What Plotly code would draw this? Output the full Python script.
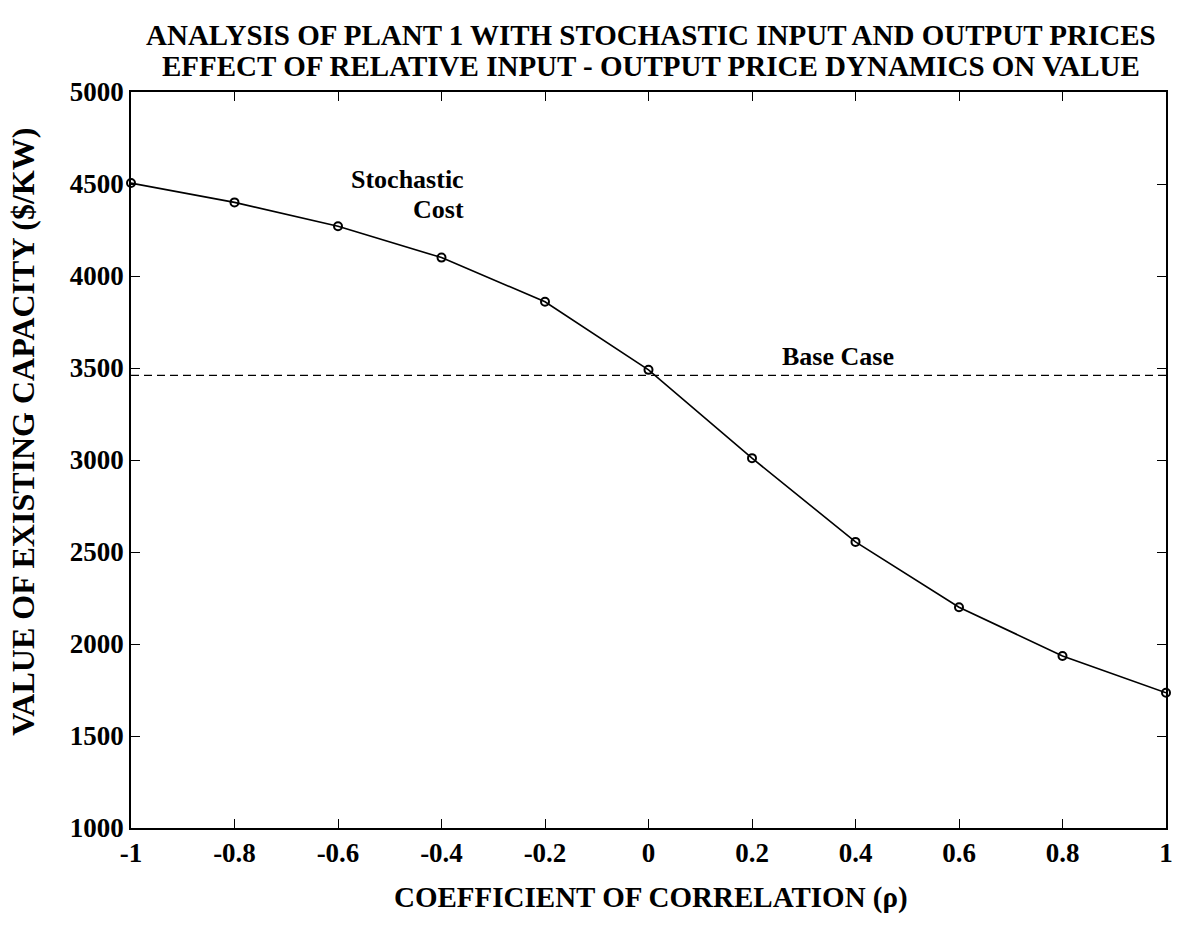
import plotly.graph_objects as go

rho = [-1, -0.8, -0.6, -0.4, -0.2, 0, 0.2, 0.4, 0.6, 0.8, 1]
value = [4505, 4400, 4270, 4100, 3860, 3490, 3010, 2555, 2200, 1935, 1735]
base_case = 3460
x_ticks = [-1, -0.8, -0.6, -0.4, -0.2, 0, 0.2, 0.4, 0.6, 0.8, 1]
x_tick_text = ["-1", "-0.8", "-0.6", "-0.4", "-0.2", "0", "0.2", "0.4", "0.6", "0.8", "1"]
y_ticks = [1000, 1500, 2000, 2500, 3000, 3500, 4000, 4500, 5000]
title_lines = ["ANALYSIS OF PLANT 1 WITH STOCHASTIC INPUT AND OUTPUT PRICES",
               "EFFECT OF RELATIVE INPUT - OUTPUT PRICE DYNAMICS ON VALUE"]
y_title = "VALUE OF EXISTING CAPACITY ($/KW)"
x_title = "COEFFICIENT OF CORRELATION (ρ)"

FONT = "Liberation Serif, Times New Roman, serif"

fig = go.Figure()
fig.add_trace(go.Scatter(
    x=[rho[0], rho[-1]], y=[base_case, base_case], mode="lines",
    line=dict(color="black", width=1.4, dash="8px,5px"), showlegend=False, hoverinfo="skip"))
fig.add_trace(go.Scatter(
    x=rho, y=value, mode="lines+markers",
    line=dict(color="black", width=1.6),
    marker=dict(symbol="circle-open", size=8, color="black", line=dict(width=2)),
    showlegend=False, cliponaxis=False))

fig.add_annotation(x=-0.353, y=4522, text="<b>Stochastic</b>", showarrow=False,
                   xanchor="right", yanchor="middle",
                   font=dict(family=FONT, size=26, color="black"))
fig.add_annotation(x=-0.353, y=4362, text="<b>Cost</b>", showarrow=False,
                   xanchor="right", yanchor="middle",
                   font=dict(family=FONT, size=26, color="black"))
fig.add_annotation(x=0.367, y=3565, text="<b>Base Case</b>", showarrow=False,
                   xanchor="center", yanchor="middle",
                   font=dict(family=FONT, size=26, color="black"))

for txt, yy in zip(title_lines, [1.0774, 1.0353]):
    fig.add_annotation(xref="paper", yref="paper", x=0.502, y=yy, text="<b>" + txt + "</b>",
                       showarrow=False, xanchor="center", yanchor="middle",
                       font=dict(family=FONT, size=29, color="black"))

# axis titles
fig.add_annotation(xref="paper", yref="paper", x=0.502, y=-0.095, text="<b>" + x_title + "</b>",
                   showarrow=False, xanchor="center", yanchor="middle",
                   font=dict(family=FONT, size=29, color="black"))
fig.add_annotation(xref="paper", yref="paper", x=-0.104, y=0.539, text="<b>" + y_title + "</b>",
                   showarrow=False, xanchor="center", yanchor="middle", textangle=-90,
                   font=dict(family=FONT, size=32, color="black"))

fig.update_layout(
    width=1178, height=930,
    margin=dict(l=131, r=5, t=92, b=102),
    paper_bgcolor="white", plot_bgcolor="white",
    font=dict(family=FONT, size=24, color="black"),
)
fig.update_xaxes(range=[-1, 1], tickvals=x_ticks, ticktext=["<b>%s</b>" % t for t in x_tick_text],
                 showgrid=False, zeroline=False, showline=True, linecolor="black", linewidth=1.6,
                 mirror="ticks", ticks="inside", ticklen=9, tickwidth=1.3, tickcolor="black",
                 tickfont=dict(family=FONT, size=27))
fig.update_yaxes(range=[1000, 5000], tickvals=y_ticks, ticktext=["<b>%d</b>" % t for t in y_ticks],
                 showgrid=False, zeroline=False, showline=True, linecolor="black", linewidth=1.6,
                 mirror="ticks", ticks="inside", ticklen=9, tickwidth=1.3, tickcolor="black",
                 tickfont=dict(family=FONT, size=27))

fig.write_html("out.html")
